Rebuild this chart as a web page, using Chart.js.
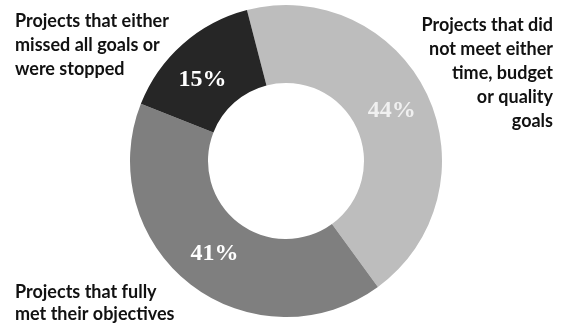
<!DOCTYPE html>
<html>
<head>
<meta charset="utf-8">
<script src="https://cdn.jsdelivr.net/npm/chart.js@4"></script>
<style>
  html, body { margin: 0; padding: 0; background: #fff; }
  canvas { display: block; }
</style>
</head>
<body>
<canvas id="grafico" width="561" height="327"></canvas>
<script>
const categorias = [
  ["Projects that did", "not meet either", "time, budget", "or quality", "goals"],
  ["Projects that fully", "met their objectives"],
  ["Projects that either", "missed all goals or", "were stopped"]
];
const valores = [44, 41, 15];
const colores = ["#bdbdbd", "#7f7f7f", "#262626"];

const canvasGrafico = document.getElementById("grafico");

// porcentajes dentro de cada segmento + textos de categoria
const etiquetas = {
  id: "etiquetas",
  afterDatasetsDraw(chart) {
    const ctx = chart.ctx;
    const meta = chart.getDatasetMeta(0);
    ctx.save();
    ctx.font = "bold 24px 'Liberation Serif', 'DejaVu Serif', serif";
    ctx.textAlign = "center";
    ctx.textBaseline = "middle";
    meta.data.forEach((arc, i) => {
      const p = arc.getCenterPoint();
      // el segmento pequeño tiene la etiqueta algo mas abajo
      const dx = i === 2 ? -6 : 0, dy = i === 2 ? 6 : 0;
      ctx.fillStyle = i === 0 ? "#f0f0f0" : "#ffffff";
      ctx.fillText(valores[i] + "%", p.x + dx, p.y + dy);
    });

    ctx.font = "bold 18px Lato, 'Open Sans', sans-serif";
    ctx.fillStyle = "#111";
    ctx.textBaseline = "alphabetic";
    const w = chart.width, h = chart.height;
    // derecha
    ctx.textAlign = "right";
    categorias[0].forEach((t, k) => ctx.fillText(t, w - 8, 31 + k * 24));
    // abajo izquierda
    ctx.textAlign = "left";
    categorias[1].forEach((t, k) => ctx.fillText(t, 15, h - 29 + k * 22));
    // arriba izquierda
    categorias[2].forEach((t, k) => ctx.fillText(t, 15, 27 + k * 24));
    ctx.restore();
  }
};

new Chart(canvasGrafico, {
  type: "doughnut",
  data: {
    labels: categorias.map((c) => c.join(" ")),
    datasets: [
      {
        data: valores,
        backgroundColor: colores,
        borderWidth: 0
      }
    ]
  },
  options: {
    responsive: false,
    animation: false,
    cutout: "50%",
    rotation: -14.5,
    layout: { padding: { top: 5, bottom: 10, left: 11, right: 0 } },
    plugins: {
      legend: { display: false },
      tooltip: { enabled: false }
    }
  },
  plugins: [etiquetas]
});
</script>
</body>
</html>
